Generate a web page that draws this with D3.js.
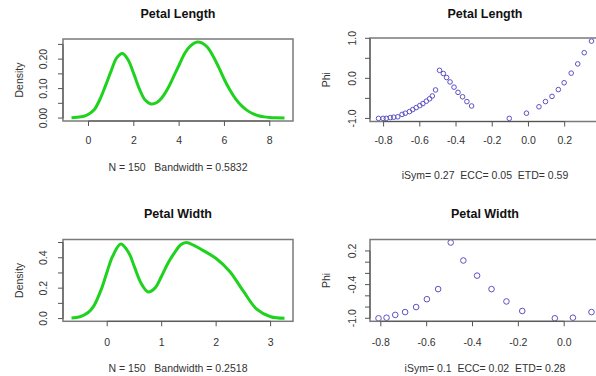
<!DOCTYPE html>
<html><head><meta charset="utf-8">
<script src="https://cdn.jsdelivr.net/npm/d3@7"></script>
<style>body{margin:0;background:#fff}svg{display:block;font-family:"Liberation Sans",Arial,sans-serif}text{white-space:pre}</style>
</head><body><svg id="c" width="596" height="376"></svg>
<script>
// ---------- DATA ----------
const titles = ["Petal Length", "Petal Length", "Petal Width", "Petal Width"];
const subtitles = ["N = 150   Bandwidth = 0.5832", "iSym= 0.27  ECC= 0.05  ETD= 0.59",
                   "N = 150   Bandwidth = 0.2518", "iSym= 0.1  ECC= 0.02  ETD= 0.28"];
const yLabels = ["Density", "Phi", "Density", "Phi"];

const lengthDensityX = [-0.75,-0.5,-0.25,0,0.25,0.5,0.75,1.0,1.25,1.5,1.75,2.0,2.25,2.5,2.75,3.0,3.25,3.5,3.75,4.0,4.25,4.5,4.8,5.0,5.25,5.5,5.75,6.0,6.25,6.5,6.75,7.0,7.25,7.5,7.75,8.0,8.25,8.65];
const lengthDensityY = [0.001,0.003,0.005,0.013,0.028,0.063,0.11,0.16,0.205,0.219,0.197,0.15,0.098,0.061,0.048,0.052,0.07,0.10,0.14,0.18,0.22,0.245,0.258,0.255,0.24,0.21,0.172,0.13,0.094,0.064,0.042,0.026,0.015,0.008,0.004,0.002,0.001,0.0003];

const widthDensityX = [-0.655,-0.5,-0.35,-0.25,-0.1,0,0.1,0.25,0.4,0.5,0.625,0.75,0.875,1.0,1.125,1.25,1.35,1.45,1.6,1.75,2.0,2.25,2.5,2.75,3.0,3.255];
const widthDensityY = [0.003,0.012,0.04,0.08,0.2,0.31,0.41,0.49,0.43,0.34,0.23,0.175,0.2,0.28,0.37,0.44,0.485,0.50,0.48,0.45,0.395,0.31,0.18,0.06,0.012,0.002];

const lengthPhiX = [-0.828,-0.803,-0.785,-0.763,-0.744,-0.722,-0.698,-0.68,-0.657,-0.639,-0.62,-0.60,-0.583,-0.564,-0.546,-0.531,-0.513,
                    -0.491,-0.47,-0.452,-0.433,-0.411,-0.389,-0.364,-0.34,-0.314,
                    -0.106,-0.011,0.058,0.094,0.13,0.165,0.197,0.236,0.272,0.308,0.348];
const lengthPhiY = [-1.0,-1.0,-1.0,-0.98,-0.97,-0.96,-0.9,-0.87,-0.83,-0.78,-0.73,-0.68,-0.63,-0.57,-0.51,-0.44,-0.29,
                    0.20,0.12,0.02,-0.09,-0.22,-0.35,-0.46,-0.58,-0.69,
                    -1.0,-0.87,-0.71,-0.58,-0.45,-0.28,-0.11,0.13,0.36,0.64,0.93];

const widthPhiX = [-0.810,-0.775,-0.737,-0.694,-0.646,-0.599,-0.550,-0.495,-0.440,-0.380,-0.317,-0.252,-0.183,-0.041,0.038,0.119];
const widthPhiY = [-1.0,-0.99,-0.94,-0.89,-0.80,-0.66,-0.48,0.35,0.03,-0.24,-0.48,-0.70,-0.87,-1.0,-0.99,-0.89];

const xTicks = [[0,2,4,6,8], [-0.8,-0.6,-0.4,-0.2,0.0,0.2], [0,1,2,3], [-0.8,-0.6,-0.4,-0.2,0.0]];
const yTicks = [[0,0.05,0.10,0.15,0.20,0.25], [-1,-0.5,0,0.5,1], [0,0.1,0.2,0.3,0.4,0.5], [-1,-0.8,-0.6,-0.4,-0.2,0,0.2]];
const yTickLabels = [["0.00","0.10","0.20"], ["-1.0","0.0","1.0"], ["0.0","0.2","0.4"], ["-1.0","-0.4","0.2"]];
const xDecimals = [0, 1, 0, 1];

// ---------- LAYOUT ----------
const layout = [
  {l:63, r:293, t:39, b:121, titleY:14, subY:167, xlabY:140, ylabTickX:43, ylabX:19},
  {l:370, r:600, t:38, b:121.5, titleY:14, subY:175, xlabY:140, ylabTickX:352, ylabX:326},
  {l:63, r:293, t:239.5, b:321.3, titleY:214, subY:368, xlabY:342, ylabTickX:43, ylabX:19},
  {l:370, r:600, t:239.5, b:321.3, titleY:214, subY:368, xlabY:342, ylabTickX:352, ylabX:326}
];
const series = [
  {type:"line", x:lengthDensityX, y:lengthDensityY},
  {type:"pts", x:lengthPhiX, y:lengthPhiY, r:2.3},
  {type:"line", x:widthDensityX, y:widthDensityY},
  {type:"pts", x:widthPhiX, y:widthPhiY, r:2.8}
];

const svg = d3.select("#c");
const FS = 10.5;
function pad(e){const r=e[1]-e[0];return [e[0]-0.04*r, e[1]+0.04*r];}

layout.forEach((L, i) => {
  const s = series[i];
  const x = d3.scaleLinear().domain(pad(d3.extent(s.x))).range([L.l, L.r]);
  const y = d3.scaleLinear().domain(pad(d3.extent(s.y))).range([L.b, L.t]);
  const g = svg.append("g");
  const cid = "clip" + i;
  svg.append("clipPath").attr("id", cid).append("rect")
     .attr("x", L.l).attr("y", L.t).attr("width", L.r - L.l).attr("height", L.b - L.t);

  if (s.type === "line") {
    const pts = s.x.map((v, k) => [v, s.y[k]]);
    g.append("path").attr("clip-path", `url(#${cid})`)
      .attr("d", d3.line().x(d => x(d[0])).y(d => y(d[1])).curve(d3.curveCatmullRom)(pts))
      .attr("fill", "none").attr("stroke", "#1ed21e").attr("stroke-width", 3)
      .attr("stroke-linejoin", "round");
  } else {
    g.selectAll("circle.p").data(s.x.map((v, k) => [v, s.y[k]])).enter().append("circle")
      .attr("cx", d => x(d[0])).attr("cy", d => y(d[1])).attr("r", s.r)
      .attr("fill", "none").attr("stroke", "#5b52c4").attr("stroke-width", 1);
  }

  g.append("rect").attr("x", L.l).attr("y", L.t).attr("width", L.r - L.l).attr("height", L.b - L.t)
    .attr("fill", "none").attr("stroke", "#7a7a7a").attr("stroke-width", 1.5);

  const xt = xTicks[i];
  g.append("line").attr("x1", x(xt[0])).attr("x2", x(xt[xt.length-1])).attr("y1", L.b).attr("y2", L.b)
    .attr("stroke", "#555").attr("stroke-width", 1);
  xt.forEach(t => {
    g.append("line").attr("x1", x(t)).attr("x2", x(t)).attr("y1", L.b).attr("y2", L.b + 5)
      .attr("stroke", "#555").attr("stroke-width", 1);
    g.append("text").attr("x", x(t)).attr("y", L.xlabY).attr("text-anchor", "middle")
      .attr("dominant-baseline", "central").attr("font-size", FS).attr("fill", "#333")
      .text(t.toFixed(xDecimals[i]));
  });

  const yt = yTicks[i];
  g.append("line").attr("y1", y(yt[0])).attr("y2", y(yt[yt.length-1])).attr("x1", L.l).attr("x2", L.l)
    .attr("stroke", "#555").attr("stroke-width", 1);
  yt.forEach(t => {
    g.append("line").attr("y1", y(t)).attr("y2", y(t)).attr("x1", L.l).attr("x2", L.l - 5)
      .attr("stroke", "#555").attr("stroke-width", 1);
  });
  yTickLabels[i].forEach(lbl => {
    const v = +lbl;
    g.append("text").attr("transform", `translate(${L.ylabTickX},${y(v)}) rotate(-90)`)
      .attr("text-anchor", "middle").attr("dominant-baseline", "central")
      .attr("font-size", FS).attr("fill", "#333").text(lbl);
  });

  const cx = (L.l + L.r) / 2;
  g.append("text").attr("x", cx).attr("y", L.titleY).attr("text-anchor", "middle")
    .attr("dominant-baseline", "central").attr("font-size", 12.5).attr("font-weight", "bold")
    .attr("fill", "#111").text(titles[i]);
  g.append("text").attr("x", cx).attr("y", L.subY).attr("text-anchor", "middle")
    .attr("dominant-baseline", "central").attr("font-size", FS).attr("fill", "#333").text(subtitles[i]);
  g.append("text").attr("transform", `translate(${L.ylabX},${(L.t + L.b) / 2}) rotate(-90)`)
    .attr("text-anchor", "middle").attr("dominant-baseline", "central")
    .attr("font-size", FS).attr("fill", "#333").text(yLabels[i]);
});
</script></body></html>
